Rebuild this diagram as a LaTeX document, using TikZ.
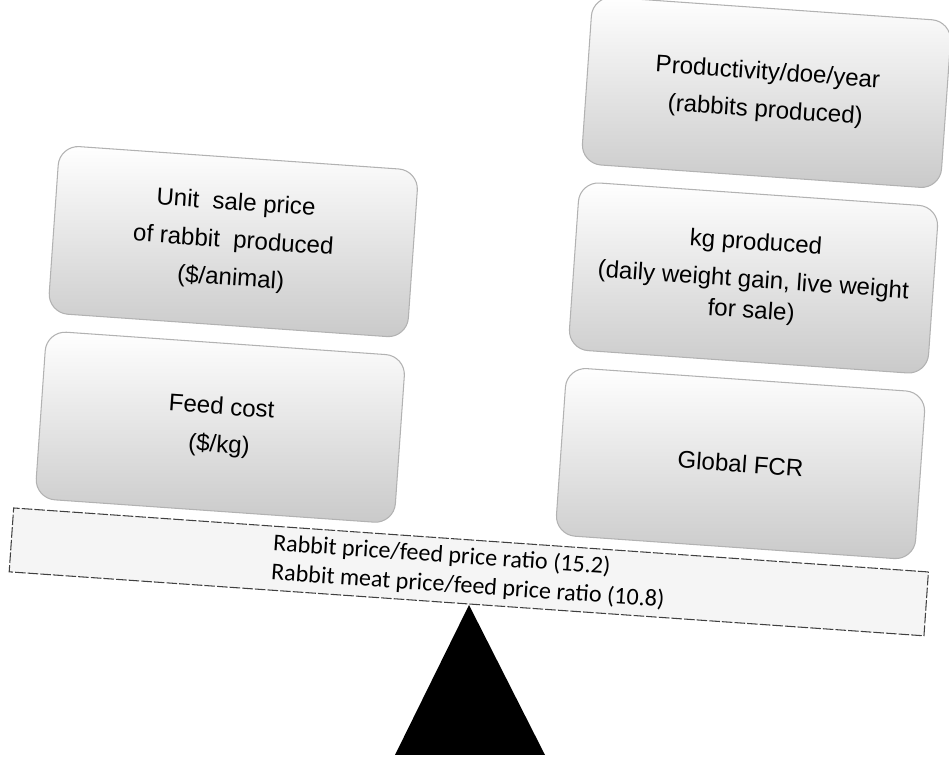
\documentclass[tikz,border=0pt]{standalone}
\usepackage{fontspec}
\setmainfont{Liberation Sans}
\newfontfamily\beamfont{Carlito}
\usetikzlibrary{positioning, shadings}
\tikzset{
  panel/.style={rectangle, rounded corners=0.4cm, minimum width=7.2cm, minimum height=3.36cm, align=center, draw=gray!60, line width=0.6pt, top color=white, middle color=gray!10, bottom color=gray!42, font=\fontsize{13.7pt}{21.5pt}\selectfont},
  beam/.style={rectangle, minimum width=18.34cm, minimum height=1.28cm, inner sep=0pt, align=left, draw=black!75, line width=0.6pt, dash pattern=on 6pt off 1.2pt, fill=gray!8, font=\beamfont\fontsize{13.7pt}{16.6pt}\selectfont}
}

\begin{document}
\begin{tikzpicture}
    \useasboundingbox (0,0) rectangle (18.98,15.22);
    \clip (0,0) rectangle (18.98,15.22);

    % 1. Fulcrum
    \coordinate (pivot) at (9.38,3.12);
    \coordinate (baseL) at (7.90,0.12);
    \coordinate (baseR) at (10.90,0.12);
    \fill[black] (pivot) -- (baseL) -- (baseR) -- cycle;

    % 2. Tilted scale (beam and the two stacks of weights)
    \begin{scope}[shift={(pivot)}, rotate=-4, transform shape]
        \node[beam] (ratio) at (-0.05,0.66) {Rabbit price/feed price ratio (15.2)\\Rabbit meat price/feed price ratio (10.8)};

        % left side
        \node[panel] (feed) at (-5.21,3.20) {Feed cost\\(\$/kg)};
        \node[panel, above=0.34cm of feed] (unitprice) {Unit\ \ sale price\\of rabbit\ \ produced\\(\$/animal)};

        % right side
        \node[panel] (fcr) at (5.22,3.20) {Global FCR};
        \node[panel, above=0.34cm of fcr] (kgprod) {kg produced\\(daily weight gain, live weight\\[-4pt]for sale)};
        \node[panel, above=0.34cm of kgprod] (prod) {Productivity/doe/year\\(rabbits produced)};
    \end{scope}
\end{tikzpicture}
\end{document}
